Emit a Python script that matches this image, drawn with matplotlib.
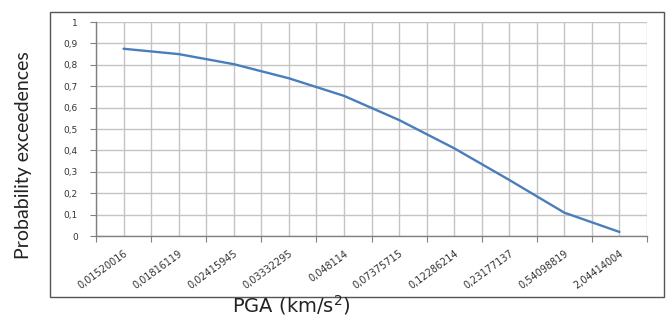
import matplotlib
matplotlib.use("Agg")
import matplotlib.pyplot as plt
from matplotlib.patches import Rectangle
import numpy as np

# data
pga_labels = ["0,01520016", "0,01816119", "0,02415945", "0,03332295", "0,048114",
              "0,07375715", "0,12286214", "0,23177137", "0,54098819", "2,04414004"]
prob_exceed = [0.875, 0.850, 0.803, 0.737, 0.655, 0.542, 0.410, 0.262, 0.109, 0.019]
y_ticks = [0, 0.1, 0.2, 0.3, 0.4, 0.5, 0.6, 0.7, 0.8, 0.9, 1]
y_tick_labels = ["0", "0,1", "0,2", "0,3", "0,4", "0,5", "0,6", "0,7", "0,8", "0,9", "1"]

W, H = 667, 318
fig = plt.figure(figsize=(W / 100, H / 100), dpi=100)
fig.patch.set_facecolor("white")

# outer chart border
fig.patches.append(Rectangle((50 / W, 1 - 296.5 / H), 614 / W, 284.5 / H,
                             transform=fig.transFigure, fill=False,
                             edgecolor="#555555", linewidth=1.0))

ax = fig.add_axes([96 / W, 1 - 236 / H, 551 / W, 214 / H])

x_pos = np.arange(len(pga_labels))
ax.plot(x_pos, prob_exceed, color="#4a7ebb", linewidth=1.7, solid_capstyle="round")

ax.set_xlim(-0.5, len(pga_labels) - 0.5)
ax.set_ylim(0, 1)

# category boundaries as major ticks, centres as minor
ax.set_xticks(np.arange(len(pga_labels) + 1) - 0.5)
ax.set_xticklabels([])
ax.set_xticks(x_pos, minor=True)
ax.set_xticklabels(pga_labels, minor=True, rotation=36, ha="right",
                   rotation_mode="anchor", fontsize=7, color="#333333")
ax.tick_params(axis="x", which="major", length=4, color="#808080", direction="out")
ax.tick_params(axis="x", which="minor", length=0, pad=9)

ax.set_yticks(y_ticks)
ax.set_yticklabels(y_tick_labels, fontsize=6.5, color="#333333")
ax.tick_params(axis="y", length=4, color="#808080", direction="out", pad=9)

ax.grid(which="both", color="#c4c4c4", linewidth=1.0)
ax.set_axisbelow(True)
for side in ["top", "right"]:
    ax.spines[side].set_visible(False)
for side in ["left", "bottom"]:
    ax.spines[side].set_color("#808080")
    ax.spines[side].set_linewidth(1.0)

fig.text(24 / W, 1 - 155 / H, "Probability exceedences", rotation=90,
         ha="center", va="center", fontsize=14, color="#222222",
         family=["Lato", "DejaVu Sans"])
fig.text(291 / W, 1 - 305 / H, "PGA (km/s$^{2}$)", ha="center", va="center",
         fontsize=14, color="#222222", family=["DejaVu Sans"])

fig.savefig("out.png", dpi=100)
